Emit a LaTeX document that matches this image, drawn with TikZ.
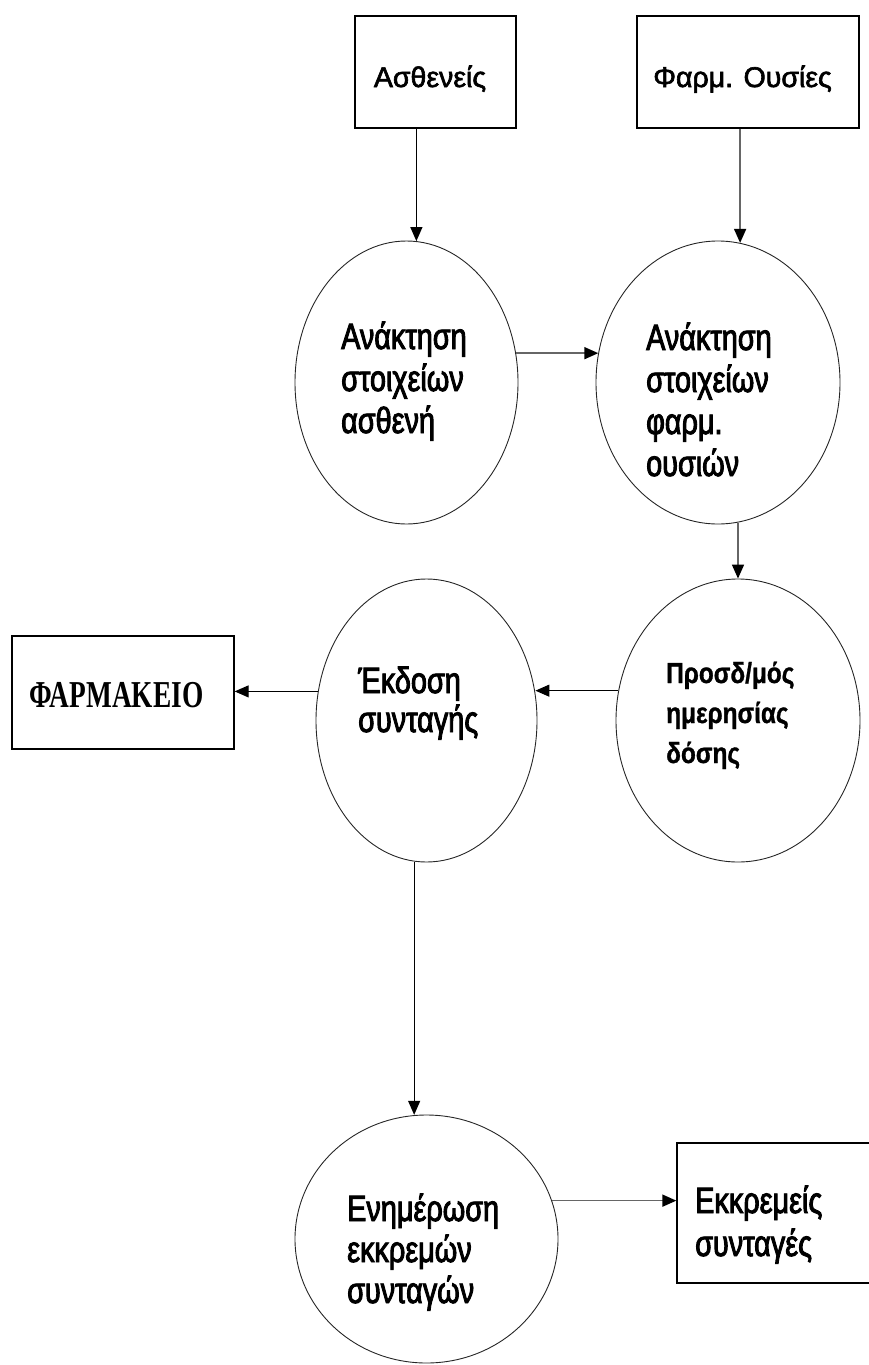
\documentclass[tikz,border=0pt]{standalone}
\usepackage{fontspec}
\usetikzlibrary{shapes.geometric,arrows.meta}
\newfontfamily\boxfont[FakeBold=2.2]{Liberation Sans}
\newfontfamily\procfont[FakeStretch=0.79,FakeBold=2.5]{Liberation Sans}
\newfontfamily\procboldfont[FakeStretch=0.84,FakeBold=1]{Liberation Sans}
\newfontfamily\pharmfont[FakeStretch=0.72]{Liberation Serif}
\begin{document}
\begin{tikzpicture}[x=1pt,y=-1pt,
  proc/.style={ellipse, draw=black!85, line width=0.9pt, inner sep=0pt},
  store/.style={rectangle, draw, line width=1.3pt, inner sep=0pt},
  boxlabel/.style={font=\boxfont\fontsize{28.5}{33}\selectfont, inner sep=0pt, anchor=base},
  % multi-line labels are placed by the baseline of their last line
  proclabel/.style={font=\procfont\fontsize{36.5}{42}\selectfont, align=left, inner sep=0pt, anchor=base west},
  tip/.style={-{Triangle[length=14pt,width=12pt,color=black]}},
  flow/.style={tip, line width=1.1pt},
  softflow/.style={tip, draw=black!60, line width=1.7pt},
]
\useasboundingbox (0,0) rectangle (869,1365);
\clip (0,0) rectangle (869,1365);

% external entities
\node[store, minimum width=161pt, minimum height=112pt] (pat) at (435.5,72) {};
\node[boxlabel] (patlabel) at (430,87) {Ασθενείς};
\node[store, minimum width=222pt, minimum height=112pt] (drug) at (748,72) {};
\node[boxlabel] (druglabel) at (742.5,87) {Φαρμ. Ουσίες};
\node[store, minimum width=222pt, minimum height=113pt] (pharm) at (123,692.5) {};
\node[inner sep=0pt, anchor=base, font=\pharmfont\bfseries\fontsize{38}{42}\selectfont] (pharmlabel) at (116.5,707) {ΦΑΡΜΑΚΕΙΟ};
\node[store, minimum width=228pt, minimum height=140pt] (pending) at (791,1213) {};
\node[proclabel, font=\procfont\fontsize{36.5}{43}\selectfont] (pendinglabel) at (695,1256) {Εκκρεμείς\\συνταγές};

% processes
\node[proc, minimum width=223pt, minimum height=283pt] (getpat) at (406.5,382.5) {};
\node[proclabel] (getpatlabel) at (341,433) {Ανάκτηση\\στοιχείων\\ασθενή};
\node[proc, minimum width=244pt, minimum height=283pt] (getdrug) at (718,382.5) {};
\node[proclabel] (getdruglabel) at (646,476) {Ανάκτηση\\στοιχείων\\φαρμ.\\ουσιών};
\node[proc, minimum width=244pt, minimum height=283pt] (dose) at (738,720.5) {};
\node[proclabel, font=\procboldfont\bfseries\fontsize{29}{40}\selectfont] (doselabel) at (666,763) {Προσδ/μός\\ημερησίας\\δόσης};
\node[proc, minimum width=221pt, minimum height=283pt] (issue) at (426.5,720.5) {};
\node[proclabel, font=\procfont\fontsize{36.5}{39}\selectfont] (issuelabel) at (358,732) {Έκδοση\\συνταγής};
\node[proc, minimum width=263pt, minimum height=248pt] (update) at (426.5,1239) {};
\node[proclabel, font=\procfont\fontsize{36.5}{41}\selectfont] (updatelabel) at (347,1303) {Ενημέρωση\\εκκρεμών\\συνταγών};

% data flows
\draw[flow] (getpat.86.1 |- pat.south) -- (getpat.86.1);
\draw[softflow] (getdrug.81.85 |- drug.south) -- (getdrug.81.85);
\draw[softflow] (getpat.15.1) -- (getpat.15.1 -| getdrug.166.1);
\draw[softflow] (dose.north |- getdrug.278.15) -- (dose.north);
\draw[flow] (dose.166.8) -- (dose.166.8 -| issue.14.5);
\draw[flow] (issue.165.5) -- (issue.165.5 -| pharm.east);
\draw[flow] (issue.265.7) -- (issue.265.7 |- update.94.9);
\draw[softflow] (update.17.8) -- (update.17.8 -| pending.west);
\end{tikzpicture}
\end{document}
